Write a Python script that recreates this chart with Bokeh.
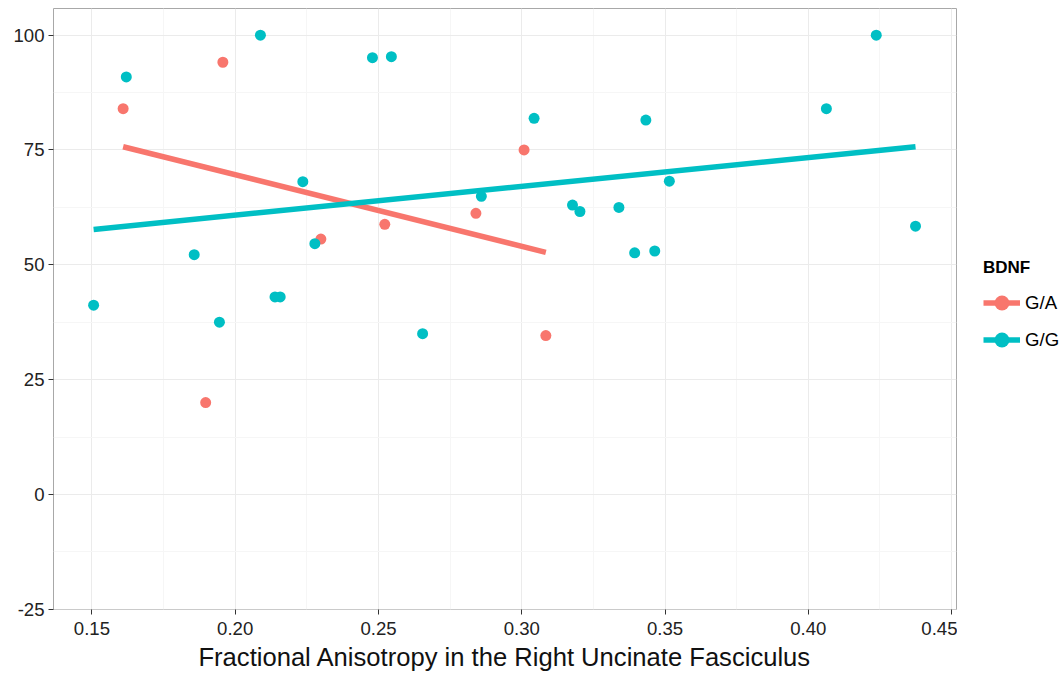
from bokeh.plotting import figure
from bokeh.models import ColumnDataSource, FixedTicker, Legend, LegendItem, Range1d
from bokeh.layouts import row
from bokeh.embed import file_html
from bokeh.resources import INLINE

# ---- data ----
groups = ["G/A", "G/G"]
colors = ["#F8766D", "#00BFC4"]

ga_x = [0.1609, 0.1957, 0.1897, 0.2299, 0.2522, 0.2840, 0.3008, 0.3084]
ga_y = [84.0, 94.1, 20.0, 55.6, 58.8, 61.2, 75.0, 34.6]

gg_x = [0.1506, 0.1620, 0.1857, 0.1945, 0.2088, 0.2139, 0.2157, 0.2236,
        0.2278, 0.2479, 0.2545, 0.2654, 0.2859, 0.3043, 0.3177, 0.3203,
        0.3339, 0.3394, 0.3433, 0.3464, 0.3515, 0.4063, 0.4237, 0.4374]
gg_y = [41.2, 90.9, 52.2, 37.5, 100.0, 43.0, 43.0, 68.1,
        54.6, 95.1, 95.3, 35.0, 64.9, 81.9, 63.0, 61.6,
        62.5, 52.6, 81.5, 53.0, 68.2, 84.0, 100.0, 58.4]

# fitted trend lines (endpoints)
ga_fit_x = [0.1609, 0.3084]
ga_fit_y = [75.7, 52.7]
gg_fit_x = [0.1506, 0.4374]
gg_fit_y = [57.7, 75.7]

x_ticks = [0.15, 0.20, 0.25, 0.30, 0.35, 0.40, 0.45]
x_labels = ["0.15", "0.20", "0.25", "0.30", "0.35", "0.40", "0.45"]
x_minor = [0.175, 0.225, 0.275, 0.325, 0.375, 0.425]
y_ticks = [-25, 0, 25, 50, 75, 100]
y_labels = ["-25", "0", "25", "50", "75", "100"]
y_minor = [-12.5, 12.5, 37.5, 62.5, 87.5]

x_title = "Fractional Anisotropy in the Right Uncinate Fasciculus"
legend_title = "BDNF"

FONT = "Liberation Sans"

p = figure(width=957, height=675, output_backend="svg", toolbar_location=None,
           x_range=Range1d(0.1366, 0.4517), y_range=Range1d(-25.05, 105.8),
           min_border_left=53, min_border_right=1, min_border_top=8,
           min_border_bottom=66)
p.background_fill_color = "white"
p.border_fill_color = "white"
p.outline_line_color = "#A8A8A8"
p.outline_line_width = 1

xt = FixedTicker(ticks=x_ticks, minor_ticks=x_minor)
yt = FixedTicker(ticks=y_ticks, minor_ticks=y_minor)
p.xaxis.ticker = xt
p.yaxis.ticker = yt
p.xgrid.ticker = xt
p.ygrid.ticker = yt
p.xaxis.major_label_overrides = {t: l for t, l in zip(x_ticks, x_labels)}
p.yaxis.major_label_overrides = {t: l for t, l in zip(y_ticks, y_labels)}

for g in (p.xgrid, p.ygrid):
    g.grid_line_color = "#EBEBEB"
    g.grid_line_width = 1
    g.minor_grid_line_color = "#F6F6F6"
    g.minor_grid_line_width = 1

for ax in (p.xaxis, p.yaxis):
    ax.axis_line_color = None
    ax.major_tick_line_color = "#333333"
    ax.major_tick_line_width = 1
    ax.major_tick_out = 5
    ax.major_tick_in = 0
    ax.minor_tick_line_color = None
    ax.major_label_text_font = FONT
    ax.major_label_text_font_size = "18.6px"
    ax.major_label_text_color = "#222222"
p.xaxis.major_label_standoff = 7
p.yaxis.major_label_standoff = 4

p.xaxis.axis_label = x_title
p.xaxis.axis_label_text_font = FONT
p.xaxis.axis_label_text_font_size = "25.6px"
p.xaxis.axis_label_text_font_style = "normal"
p.xaxis.axis_label_text_color = "#111111"
p.xaxis.axis_label_standoff = 5

src_ga = ColumnDataSource(dict(x=ga_x, y=ga_y))
src_gg = ColumnDataSource(dict(x=gg_x, y=gg_y))
p.scatter("x", "y", source=src_ga, size=11, fill_color=colors[0], line_color=None)
p.scatter("x", "y", source=src_gg, size=11, fill_color=colors[1], line_color=None)
p.line(ga_fit_x, ga_fit_y, line_color=colors[0], line_width=5.5, line_cap="butt")
p.line(gg_fit_x, gg_fit_y, line_color=colors[1], line_width=5.5, line_cap="butt")

# ---- legend panel (separate narrow figure; its data lie outside its view) ----
q = figure(width=105, height=675, output_backend="svg", toolbar_location=None,
           x_range=Range1d(10, 11), y_range=Range1d(10, 11),
           min_border_left=0, min_border_right=0, min_border_top=0,
           min_border_bottom=0)
q.axis.visible = False
q.grid.visible = False
q.outline_line_color = None
q.background_fill_color = "white"
q.border_fill_color = "white"

items = []
for g, c, xs, ys, fx, fy in zip(groups, colors, [ga_x, gg_x], [ga_y, gg_y],
                                [ga_fit_x, gg_fit_x], [ga_fit_y, gg_fit_y]):
    lr = q.line(fx, fy, line_color=c, line_width=5.5, line_cap="butt")
    sr = q.scatter(xs, ys, size=11, fill_color=c, line_color=None)
    items.append(LegendItem(label=g, renderers=[lr, sr]))

legend = Legend(items=items, location=(26, 251))
legend.title = legend_title
legend.title_text_font = FONT
legend.title_text_font_style = "bold"
legend.title_text_font_size = "17px"
legend.title_text_color = "#000000"
legend.title_standoff = 6
legend.label_text_font = FONT
legend.label_text_font_size = "18.6px"
legend.label_text_color = "#000000"
legend.glyph_width = 37
legend.glyph_height = 37
legend.label_standoff = 5
legend.padding = 0
legend.spacing = 0
legend.margin = 0
legend.border_line_color = None
legend.background_fill_alpha = 0
q.add_layout(legend)

layout = row(p, q)
open("out.html", "w").write(file_html(layout, INLINE))
